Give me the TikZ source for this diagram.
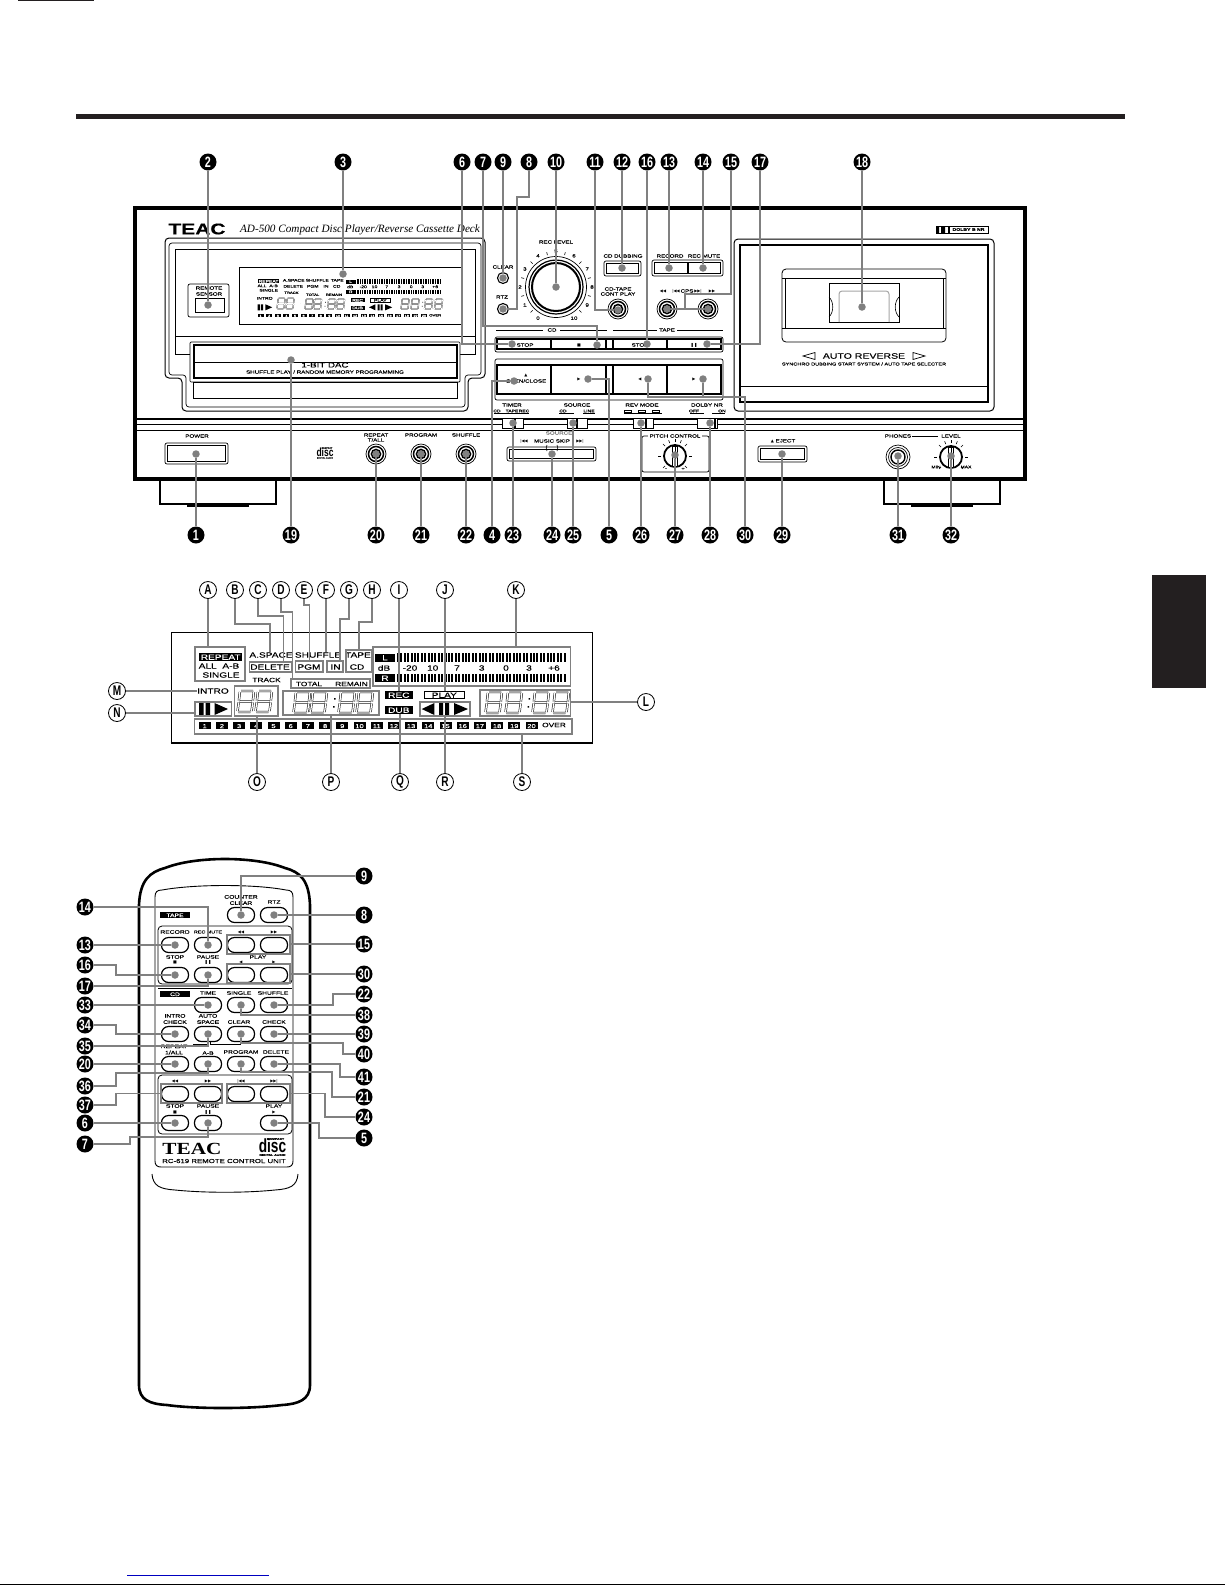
\documentclass[tikz,border=0pt]{standalone}
\usepackage{fontspec}
\newfontfamily\widefont[FakeStretch=1.35,FakeBold=.2]{Liberation Sans}
\newfontfamily\narrowfont[FakeStretch=.72]{Liberation Sans}
\newfontfamily\seriffont{Liberation Serif}
\newfontfamily\serifwide[FakeStretch=1.25]{Liberation Serif}
\newfontfamily\symfont{DejaVu Sans}
\definecolor{inkblack}{HTML}{231F20}
\definecolor{leadgray}{HTML}{808080}
\definecolor{linkblue}{HTML}{0000C0}
\newcommand{\iconsym}[1]{{\symfont\fontsize{4}{5}\selectfont #1}}
\def\lcdscale{1}
% one digit of the display
\newcommand{\segdigit}[2]{%
  \begin{scope}[shift={(#1,#2)},xslant=.12]
    \draw[seg] (1,0)--(13,0) (1,10.5)--(13,10.5) (1,21)--(13,21)
      (0,1)--(0,9.5) (0,11.5)--(0,20) (14,1)--(14,9.5) (14,11.5)--(14,20);
  \end{scope}}
% contents of the display, used twice
\newcommand{\lcdbody}{%
  \node[lcdblk,minimum width=43.5] (tRepeat) at (220.7,657) {REPEAT};
  \node[lcdtxt] (tAll) at (219,666) {ALL\ \ A-B};
  \node[lcdtxt] (tSingle) at (221,675) {SINGLE};
  \node[lcdtxt] (tSpace) at (271,655) {A.SPACE};
  \node[lcdtxt] (tDelete) at (270,667) {DELETE};
  \node[lcdtxt] (tShuffle) at (318,655) {SHUFFLE};
  \node[lcdtxt] (tPgm) at (309,667) {PGM};
  \node[lcdtxt] (tIn) at (335.6,667) {IN};
  \node[lcdtxt] (tTape) at (358,655) {TAPE};
  \node[lcdtxt] (tCd) at (357,667) {CD};
  \node[lcdblk,minimum width=20] (tL) at (385,657.5) {L};
  \node[lcdblk,minimum width=20] (tR) at (385,678) {R};
  \node[lcdtxt] (tDb) at (384,668) {dB};
  \foreach \i in {0,...,49} {
    \fill (397+\i*3.4,653) rectangle ++(2,9);
    \fill (397+\i*3.4,674) rectangle ++(2,8);
  }
  \foreach \t/\x [count=\c] in {-20/410,10/432.7,7/457,3/481.7,0/506,3/529,+6/554}
    \node[lcdtxt] (sc\c) at (\x,668) {\t};
  \node[lcdsml] (tTrack) at (266.5,680) {TRACK};
  \node[lcdsml] (tTotal) at (309,684) {TOTAL};
  \node[lcdsml] (tRemain) at (351.5,684) {REMAIN};
  \node[lcdtxt] (tIntro) at (213,691) {INTRO};
  \fill (199,703) rectangle (203.5,715) (205.5,703) rectangle (210,715);
  \fill (214.5,703) -- (228,709) -- (214.5,715) -- cycle;
  \segdigit{240}{691}\segdigit{258}{691}
  \draw[seg] (285,702) -- (291,702);
  \segdigit{296}{692}\segdigit{313}{692}\segdigit{341}{692}\segdigit{359}{692}
  \fill (334,698) rectangle ++(1.5,1.5) (333,706) rectangle ++(1.5,1.5);
  \node[lcdblk,minimum width=27.6] (tRec) at (398.8,695) {REC};
  \node[lcdblk,minimum width=27.6] (tDub) at (398.8,710) {DUB};
  \node[lcdtxt,draw,line width=.8*\lcdscale,minimum width=40,text height=5.5,text depth=0,inner ysep=1] (tPlay) at (444.3,695) {PLAY};
  \fill (434.4,703) -- (421.7,709) -- (434.4,715) -- cycle;
  \fill (439,703) rectangle (443,715) (445,703) rectangle (449,715);
  \fill (454,703) -- (468,709) -- (454,715) -- cycle;
  \segdigit{488}{692}\segdigit{508}{692}\segdigit{535}{692}\segdigit{555}{692}
  \fill (528.5,698) rectangle ++(1.5,1.5) (527.5,706) rectangle ++(1.5,1.5);
  \foreach \i in {1,...,20}
    \node[lcdtk] (tk\i) at ({204.7+(\i-1)*17.2},725.5) {\i};
  \node[lcdsml] (tOver) at (554,725) {OVER};
}
% button with a thin rim and a heavy inner frame
\newcommand{\framebtn}[4]{%
  \draw[fill=white,line width=.7,rounded corners=2] (#1,#2) rectangle (#3,#4);
  \draw[line width=1.7] (#1+2.5,#2+2.5) rectangle (#3-2.5,#4-2.5);}
% round socket with rings
\newcommand{\jackring}[2]{%
  \draw[line width=.7] (#1,#2) circle (10);
  \draw[line width=1.5] (#1,#2) circle (7.5);
  \draw[line width=1.6] (#1,#2) circle (4.5);}
% small turning knob with ticks
\newcommand{\smallknob}[2]{%
  \begin{scope}[shift={(#1,#2)},y=1pt]
    \foreach \a in {-45,0,45,68,90,112,135,180,225}
      \draw[line width=.6] (\a:14) -- (\a:17);
    \draw[fill=white,line width=1.8] (0,0) circle (11);
    \draw[line width=1,fill=white] (-2.5,-10) rectangle (2.5,10);
    \draw[line width=.8] (0,-10) -- (0,10);
  \end{scope}}
% disc emblem
\newcommand{\cdlogo}[4]{%
  \begin{scope}[shift={(#2,#3)},scale=#4,transform shape,name prefix=#1]
    \node[inner sep=0,font=\widefont\bfseries\fontsize{2.6}{3}\selectfont] (top) at (3,-8) {COMPACT};
    \node[inner sep=0,font=\narrowfont\bfseries\fontsize{19}{19}\selectfont] (word) at (0,-1) {disc};
    \node[inner sep=0,font=\widefont\bfseries\fontsize{2.6}{3}\selectfont] (low) at (0,8) {DIGITAL AUDIO};
  \end{scope}}
\begin{document}
\begin{tikzpicture}[x=1pt,y=-1pt]
\tikzstyle{numdot} = [circle,fill=black,text=white,minimum size=17,inner sep=0pt,font=\narrowfont\bfseries\fontsize{15}{15}\selectfont] % black number
\tikzstyle{letdot} = [circle,draw=black,fill=white,line width=.8,minimum size=17,inner sep=0pt,font=\narrowfont\bfseries\fontsize{14}{14}\selectfont] % letter in a ring
\tikzstyle{gdot} = [circle,fill=leadgray,minimum size=7.5,inner sep=0pt] % end of a lead
\tikzstyle{lead} = [draw=leadgray,line width=1.3]
\tikzstyle{hlbox} = [draw=leadgray,line width=1.5,inner sep=0pt]
\tikzstyle{plab} = [inner sep=0pt,font=\widefont\fontsize{4.6}{6}\selectfont,align=center] % panel text
\tikzstyle{plabs} = [inner sep=0pt,font=\widefont\fontsize{3.7}{5}\selectfont] % smallest panel text
\tikzstyle{rlab} = [inner sep=0pt,font=\widefont\fontsize{5}{6.2}\selectfont,align=center] % remote text
\tikzstyle{rbtn} = [draw,line width=1.2,fill=white,minimum width=27,minimum height=15,rounded corners=7pt,inner sep=0pt]
\tikzstyle{lcdtxt} = [inner sep=0pt,font=\widefont\fontsize{7.5}{9}\selectfont]
\tikzstyle{lcdsml} = [inner sep=0pt,font=\widefont\fontsize{6.2}{8}\selectfont]
\tikzstyle{lcdblk} = [fill=black,text=white,inner sep=0pt,minimum height=8,text height=5.5,text depth=0pt,font=\widefont\fontsize{7.5}{9}\selectfont]
\tikzstyle{lcdtk} = [fill=black,text=white,inner sep=0pt,minimum width=12,minimum height=7,text height=5,text depth=0pt,font=\widefont\fontsize{5.6}{7}\selectfont]
\tikzstyle{seg} = [line width=.5*\lcdscale,double,double distance=1.3*\lcdscale]
\useasboundingbox (0,0) rectangle (1225,1585);
\fill[white] (0,0) rectangle (1225,1585);
% page marks
\fill[inkblack] (18,0) rectangle (94,1);
\fill[inkblack] (76,114) rectangle (1125,119);
\fill[inkblack] (1152,575) rectangle (1206,688);
\draw[linkblue,line width=1] (127,1575) -- (269,1575);
\fill[black] (0,1584) rectangle (1225,1585);
%
% front panel
\draw[line width=2.6] (160,479) -- (160,504) -- (276,504) -- (276,479);
\fill (187,504) rectangle (249,507);
\draw[line width=2.6] (884,479) -- (884,504) -- (1000,504) -- (1000,479);
\fill (911,504) rectangle (973,507);
\draw[line width=3.6,fill=white] (135,208) rectangle (1025,479);
\draw[line width=1.4] (137,419) -- (1023,419);
\draw[line width=.6] (137,424) -- (1023,424);
\draw[line width=.9] (137,430) -- (1023,430);
\node[inner sep=0,font=\widefont\bfseries\fontsize{15.5}{16}\selectfont] (logo) at (197,229) {TEAC};
\node[inner sep=0,font=\seriffont\itshape\fontsize{11.2}{12}\selectfont] (model) at (360,230) {AD-500 Compact Disc Player/Reverse Cassette Deck};
% disc door and display window
\draw[line width=1,rounded corners=4] (165,238) -- (485,238) -- (485,378) -- (468,378) -- (468,411) -- (182,411) -- (182,378) -- (165,378) -- cycle;
\draw[line width=.7,rounded corners=3] (169,243) -- (481,243) -- (481,375) -- (465,375) -- (465,407) -- (186,407) -- (186,375) -- (169,375) -- cycle;
\draw[line width=.7] (175,249) rectangle (475,354);
\draw[line width=.7] (175,336) -- (475,336);
\draw[line width=.7] (239,267) rectangle (461,324);
\draw[line width=.7,rounded corners=2] (188,284) rectangle (229,317);
\draw[line width=.9] (195,298) rectangle (224,312);
\node[plab] (sensor) at (209,291) {REMOTE\\SENSOR};
\begin{scope}[shift={(158.2,-47.2)},scale=.5,transform shape,name prefix=s-]
\def\lcdscale{.5}
\lcdbody
\end{scope}
\draw[line width=.7,fill=white,rounded corners=1] (190,342) rectangle (460,382);
\draw[line width=1.8,fill=white] (194,345) rectangle (457,378);
\draw[line width=.6] (194,362) -- (457,362);
\draw[line width=.7] (193,382) rectangle (457,398);
\node[inner sep=0,font=\widefont\fontsize{7.2}{8}\selectfont] (dac) at (325,365) {1-BIT DAC};
\node[plab] (dactxt) at (325,372) {SHUFFLE PLAY / RANDOM MEMORY PROGRAMMING};
% controls of the middle part
\foreach \t/\x/\y [count=\c] in {CLEAR/503/267,RTZ/502/297,REC LEVEL/556/242,CD DUBBING/623/256,RECORD/670/256,REC MUTE/704/256,CD-TAPE/618/289,CONT PLAY/618/294,CPS/687/291,CD/552/330,TAPE/667/330,STOP/525/345,STOP/640/345,{OPEN/CLOSE}/526/381,TIMER/512/405,SOURCE/577/405,REV MODE/642/405,DOLBY NR/707/405,POWER/197/436,REPEAT/376/435,{T/ALL}/376/440,PROGRAM/421/435,SHUFFLE/466/435,MUSIC SKIP/552/441,PHONES/898/436,LEVEL/951/436}
  \node[plab] (pl\c) at (\x,\y) {\t};
\foreach \t/\x/\y [count=\c] in {CD/497/411,TAPE/512/411,REC/524/411,CD/563/411,LINE/589/411,OFF/694/411,ON/722/411,MIN/936/467,MAX/966/467}
  \node[plabs] (ps\c) at (\x,\y) {\t};
\node[plab,text=gray] (ghost) at (559,433) {SOURCE};
\foreach \t/\x/\y [count=\c] in {◀◀/663/291,|◀◀/676/291,▶▶|/698/291,▶▶/712/291,|◀◀/524/441,▶▶|/580/441,■/579/345,❚❚/694/345,▲/526/375,▶/579/379,◀/640/379,▶/694/379}
  \node[plab] (ic\c) at (\x,\y) {\iconsym{\t}};
\node[plab] (eject) at (783,441) {\iconsym{▲}\ EJECT};
\draw[line width=.7] (496,330) -- (543,330) (560,330) -- (607,330) (613,330) -- (657,330) (677,330) -- (723,330);
\draw[line width=.7] (494,413) -- (529,413) (559,413) -- (574,413) (583,413) -- (595,413) (624,413) -- (662,413) (690,413) -- (704,413) (712,413) -- (725,413);
\draw[line width=.7] (912,436) -- (938,436);
\foreach \x in {627,641,655} \draw[line width=.6] (\x-3,410) rectangle ++(7,2.5);
\draw[line width=1.1] (503,278) circle (5.5) (503,309) circle (5.5);
\begin{scope}[shift={(556,287)},y=1pt]
\foreach \a in {-45,-15,...,225} \draw[line width=.6] (\a:33) -- (\a:36);
\foreach \t in {0,...,10} \node[plab] (lv\t) at ({240-30*\t}:36) {\t};
\draw[line width=.7] (0,0) circle (30.5);
\draw[line width=1.2] (0,0) circle (27);
\draw[line width=2] (0,0) circle (24);
\end{scope}
\framebtn{604}{261}{641}{276}
\framebtn{652}{260}{723}{276}
\draw[line width=1.7] (688,262) -- (688,274);
\jackring{618}{309}\jackring{667}{309}\jackring{708}{309}
\draw[line width=.7,rounded corners=2] (495,337) rectangle (723,352);
\draw[line width=1.6] (497,339) rectangle (721,349);
\draw[line width=.7,rounded corners=2] (495,359) rectangle (723,400);
\draw[line width=1.6] (497,365) rectangle (721,394);
\draw[line width=1.6] (551,339) -- (551,349) (606,339) -- (606,349) (613,339) -- (613,349) (667,339) -- (667,349);
\draw[line width=1.6] (551,365) -- (551,394) (606,365) -- (606,394) (613,365) -- (613,394) (667,365) -- (667,394);
\foreach \a/\m/\b in {502/515/523,567/577/587,633/646/653,697/715/717} {
  \draw[line width=1,fill=white] (\a,418) rectangle (\b,428);
  \draw[line width=1.2] (\m,418) -- (\m,428);
}
\framebtn{165}{443}{228}{464}
\cdlogo{p-}{325}{453}{.62}
\jackring{376}{454}\jackring{421}{454}\jackring{466}{454}
\framebtn{507}{447}{596}{461}
\draw[line width=.6] (547,451) arc[start angle=150,end angle=210,radius=6];
\draw[line width=.6] (557,451) arc[start angle=30,end angle=-30,radius=6];
\draw[line width=.7,rounded corners=2] (642,436) rectangle (709,472);
\node[plab,fill=white,inner xsep=2pt] (pitch) at (675,436) {PITCH CONTROL};
\smallknob{675}{456}
\node[plab] (minus) at (666,469) {-};
\node[plab] (plus) at (683,469) {+};
\framebtn{758}{446}{807}{462}
\draw[line width=.7] (898,457) circle (12) (898,457) circle (9.5);
\draw[line width=1.4] (898,457) circle (7);
\smallknob{951}{457}
% cassette bay
\draw[line width=.8] (936,226) rectangle (941.5,233) (942.5,226) rectangle (948,233);
\fill (936,226) rectangle (939,233) (942.5,226) rectangle (945,233);
\node[draw,line width=.6,minimum width=39,minimum height=7,inner sep=0,font=\widefont\bfseries\fontsize{3.8}{5}\selectfont] (dolby) at (968.5,229.5) {DOLBY B NR};
\draw[line width=1,rounded corners=4] (734,239) rectangle (994,411);
\draw[line width=1.8] (740,245) rectangle (988,402);
\draw[line width=.7] (740,386) -- (988,386);
\draw[line width=.8,rounded corners=4] (782,269) rectangle (946,342);
\draw[line width=.8] (782,278) -- (946,278) (782,328) -- (946,328) (785,278) -- (785,328) (943,278) -- (943,328);
\draw[line width=.9,fill=white] (829,283) rectangle (899,322);
\draw[gray!70,line width=1,rounded corners=3] (839,322) -- (839,291) -- (889,291) -- (889,322);
\draw[line width=.6] (829,297) .. controls (834,302) and (834,312) .. (829,317);
\draw[line width=.6] (899,297) .. controls (894,302) and (894,312) .. (899,317);
\node[inner sep=0,font=\widefont\fontsize{7.8}{9}\selectfont] (revtxt) at (864,356) {AUTO REVERSE};
\draw[line width=.7] (815,352.5) -- (803,356) -- (815,359.5) -- cycle;
\draw[line width=.7] (913,352.5) -- (925,356) -- (913,359.5) -- cycle;
\node[inner sep=0,font=\widefont\fontsize{4.1}{5}\selectfont] (synctxt) at (864,364) {SYNCHRO DUBBING START SYSTEM / AUTO TAPE SELECTER};
%
% callouts of the front panel
\foreach \n/\x/\y in {2/208/305,3/343/274,9/503/278,10/556/287,12/622/268,16/647/344,13/669/268,14/703/268,18/862/307} {
  \node[gdot] (d\n) at (\x,\y) {};
  \node[numdot] (n\n) at (\x,162) {\n};
  \draw[lead] (n\n) -- (d\n);
}
\foreach \n/\x/\y in {1/196/454,19/291/360,20/376/454,21/421/454,22/466/454,23/513/423,24/552/454,25/573/423,26/641/423,27/675/455,28/710/423,29/782/454,31/898/456,32/951/456} {
  \node[gdot] (d\n) at (\x,\y) {};
  \node[numdot] (n\n) at (\x,535) {\n};
  \draw[lead] (n\n) -- (d\n);
}
\foreach \n/\x in {6/462,7/483,8/529,11/595,15/731,17/760}
  \node[numdot] (n\n) at (\x,162) {\n};
\foreach \n/\x in {4/492,5/609,30/745}
  \node[numdot] (n\n) at (\x,535) {\n};
\foreach \n/\x/\y in {6/512/344,7/597/345,8/503/309,11/618/310,15/667/309,t15/708/309,17/707/344,4/514/381,5/588/379,30/648/379,t30/703/379}
  \node[gdot] (d\n) at (\x,\y) {};
\draw[lead] (n6) |- (d6);
\draw[lead] (n7) -- ++(0,164) -| (d7);
\draw[lead] (n8) -- ++(0,35) -- ++(-12,0) |- (d8);
\draw[lead] (n11) |- (d11);
\draw[lead] (d15) -- (dt15);
\draw[lead] (n15) -- ++(0,132) -- ++(-46,0) -- ++(0,15);
\draw[lead] (n17) |- (d17);
\draw[lead] (n4) |- (d4);
\draw[lead] (n5) |- (d5);
\draw[lead] (n30) -- ++(0,-138) -| (d30);
\draw[lead] (n30) -- ++(0,-138) -| (dt30);
%
% display enlarged
\draw[line width=.8] (171,743) -- (171,632) -- (592.5,632) -- (592.5,743);
\draw[line width=2] (170.5,743) -- (593,743);
\def\lcdscale{1}
\lcdbody
\foreach \nm/\xa/\ya/\xb/\yb in {A/195/647/245/681,C/249.4/662/291.6/672,E/295.6/661/323/672,G/327/661/343/672,H/346/650/372/672,D/291/679/370/688,K/373/647/570.7/686,L/480/690/570.7/716,P/283/691/379/715,O/234.5/686/278/716,N/195/702/231.5/716,R/420/702/470/716,S/194.5/719/572/734}
  \node[hlbox,minimum width=\xb-\xa,minimum height=\yb-\ya] (b\nm) at ({(\xa+\xb)/2},{(\ya+\yb)/2}) {};
\foreach \nm/\x/\y in {A/208/590,B/235/590,C/258/590,D/281/590,E/304/590,F/326/590,G/349/590,H/372/590,I/399/590,J/445/590,K/516/590,L/646/702,M/117/691,N/117/713,O/257/782,P/331/782,Q/400/782,R/445/782,S/522/782}
  \node[letdot] (c\nm) at (\x,\y) {\nm};
\draw[lead] (cA) -- (cA |- bA.north);
\draw[lead] (cB) -- ++(0,34) -| ([xshift=-1]tSpace.north);
\draw[lead] (cC) -- ++(0,26) -| ([xshift=13]bC.north);
\draw[lead] (cD) -- ++(0,22) -| ([xshift=-38]bD.north);
\draw[lead] (cE) -- ++(0,15) -| (bE.north);
\draw[lead] (cF) -- (cF |- tShuffle.north);
\draw[lead] (cG) -- ++(0,29) -| ([xshift=5]bG.north);
\draw[lead] (cH) -- ++(0,32) -| (bH.north);
\draw[lead] (cI) -- (cI |- tRec.north);
\draw[lead] (cJ) -- (cJ |- tPlay.north);
\draw[lead] (cK) -- (cK |- bK.north);
\draw[lead] (cL) -- (cL -| bL.east);
\draw[lead] (cM) -- (tIntro.west);
\draw[lead] (cN) -- (cN -| bN.west);
\draw[lead] (cO) -- (cO |- bO.south);
\draw[lead] (cP) -- (cP |- bP.south);
\draw[lead] (cQ) -- (cQ |- tDub.south);
\draw[lead] (cR) -- (cR |- bR.south);
\draw[lead] (cS) -- (cS |- bS.south);
%
% remote control
\draw[line width=2.6] (139,1385) -- (139,905) .. controls (140,880) and (150,872) .. (165,868) .. controls (195,856) and (255,856) .. (285,868) .. controls (300,872) and (309,880) .. (310,905) -- (310,1385) .. controls (310,1400) and (298,1404) .. (282,1405) .. controls (250,1409) and (195,1409) .. (167,1405) .. controls (150,1404) and (139,1400) .. (139,1385) -- cycle;
\draw[line width=.9] (155,897) .. controls (155,892) and (157,890) .. (162,890) .. controls (195,884) and (255,884) .. (286,890) .. controls (291,890) and (293,892) .. (293,897) -- (293,1161) .. controls (293,1165) and (291,1167) .. (287,1167) -- (161,1167) .. controls (157,1167) and (155,1165) .. (155,1161) -- cycle;
\draw[line width=.9] (152,1174) .. controls (153,1186) and (160,1189) .. (175,1190) .. controls (205,1193) and (245,1193) .. (275,1190) .. controls (290,1189) and (297,1186) .. (298,1174);
\node[lcdblk,minimum width=30,minimum height=6,text height=4,font=\widefont\fontsize{5}{6}\selectfont] (rTape) at (175,915) {TAPE};
\draw[line width=.8,rounded corners=4] (158,926) rectangle (292,984);
\draw[line width=1] (158,988) -- (292,988);
\node[lcdblk,minimum width=30,minimum height=6,text height=4,font=\widefont\fontsize{5}{6}\selectfont] (rCd) at (175,994) {CD};
\draw[line width=.8,rounded corners=4] (158,1075) rectangle (292,1134);
\draw[line width=.7] (193,1044) -- (207,1044) -- (207,1042) (210,1042) -- (210,1044) -- (241,1044);
\foreach \t/\x/\y [count=\c] in {{COUNTER\\CLEAR}/241/900,RTZ/274/902,RECORD/175/932,STOP/175/957,PAUSE/208/957,PLAY/258/957,TIME/208/993,SINGLE/239/993,SHUFFLE/273/993,{INTRO\\CHECK}/175/1019,{AUTO\\SPACE}/208/1019,CLEAR/239/1022,CHECK/274/1022,{REPEAT\\1/ALL}/174/1049.5,A-B/208/1053,PROGRAM/241/1052,DELETE/276/1052,STOP/175/1106,PAUSE/208/1106,PLAY/274/1106}
  \node[rlab] (rl\c) at (\x,\y) {\t};
\node[rlab,font=\widefont\fontsize{4}{6.2}\selectfont] (rMute) at (208,932) {REC MUTE};
\node[rlab,font=\widefont\fontsize{5.8}{6.2}\selectfont] (rModel) at (224,1161) {RC-619 REMOTE CONTROL UNIT};
\foreach \t/\x/\y [count=\c] in {◀◀/241/932,▶▶/274/932,■/175/962,❚❚/208/962,◀/241/962,▶/274/962,◀◀/175/1081,▶▶/208/1081,|◀◀/241/1081,▶▶|/274/1081,■/175/1112,❚❚/208/1112,▶/274/1112}
  \node[rlab] (ri\c) at (\x,\y) {\iconsym{\t}};
\node[inner sep=0,font=\serifwide\bfseries\fontsize{17}{17}\selectfont] (rLogo) at (192,1149) {TEAC};
\cdlogo{r-}{272.5}{1147}{1}
\foreach \x/\y [count=\c] in {241/915,274/915,175/945,208/945,241/945,274/945,175/975,208/975,241/975,274/975,208/1005,241/1005,274/1005,175/1034,208/1034,241/1034,274/1034,175/1064,208/1064,241/1064,274/1064,175/1094,208/1094,241/1094,274/1094,175/1123,208/1123,274/1123}
  \node[rbtn] (rb\c) at (\x,\y) {};
\foreach \nm/\xa/\ya/\xb/\yb in {15/227/935/290/954,30/227/964/290/983,37/161/1084/222/1103,24/227/1084/290/1103}
  \node[hlbox,minimum width=\xb-\xa,minimum height=\yb-\ya] (g\nm) at ({(\xa+\xb)/2},{(\ya+\yb)/2}) {};
\foreach \nm/\x/\y in {Clr/241/915,Rtz/274/915,Rec/175/945,Mute/208/945,Stop/175/975,Pause/208/975,Time/208/1005,Sing/241/1005,Shuf/274/1005,Intro/175/1034,Auto/208/1034,Clear/241/1034,Check/274/1034,Rep/175/1064,AB/208/1064,Prog/241/1064,Del/274/1064,StopC/175/1123,PauseC/208/1123,PlayC/274/1123}
  \node[gdot] (d\nm) at (\x,\y) {};
\foreach \n/\y in {14/907,13/945,16/965,17/986,33/1005,34/1025,35/1046,20/1064,36/1086,37/1105,6/1123,7/1144}
  \node[numdot] (l\n) at (85,\y) {\n};
\foreach \n/\y in {9/876,8/915,15/944,30/974,22/994,38/1015,39/1034,40/1054,41/1077,21/1097,24/1117,5/1138}
  \node[numdot] (k\n) at (364,\y) {\n};
\draw[lead] (l14) -| (dMute);
\draw[lead] (l13) -- (dRec);
\draw[lead] (l16) -- ++(31,0) |- (dStop);
\draw[lead] (l17) -| (dPause);
\draw[lead] (l33) -- (dTime);
\draw[lead] (l34) -- ++(31,0) |- (dIntro);
\draw[lead] (l35) -| (dAuto);
\draw[lead] (l20) -- (dRep);
\draw[lead] (l36) -- ++(31,0) -- ++(0,-13) -| (dAB);
\draw[lead] (l37) -- ++(31,0) |- (g37.west);
\draw[lead] (l6) -- (dStopC);
\draw[lead] (l7) -- ++(45,0) -- ++(0,-7) -| (dPauseC);
\draw[lead] (k9) -| (dClr);
\draw[lead] (k8) -- (dRtz);
\draw[lead] (k15) -- (k15 -| g15.east);
\draw[lead] (k30) -- (k30 -| g30.east);
\draw[lead] (k22) -- ++(-31,0) |- (dShuf);
\draw[lead] (k38) -| (dSing);
\draw[lead] (k39) -- (dCheck);
\draw[lead] (k40) -- ++(-21,0) -- ++(0,-11) -| (dClear);
\draw[lead] (k41) -- ++(-24,0) |- (dDel);
\draw[lead] (k21) -- ++(-32,0) -- ++(0,-25) -| (dProg);
\draw[lead] (k24) -- ++(-39,0) |- (g24.east);
\draw[lead] (k5) -- ++(-45,0) |- (dPlayC);
\end{tikzpicture}
\end{document}
